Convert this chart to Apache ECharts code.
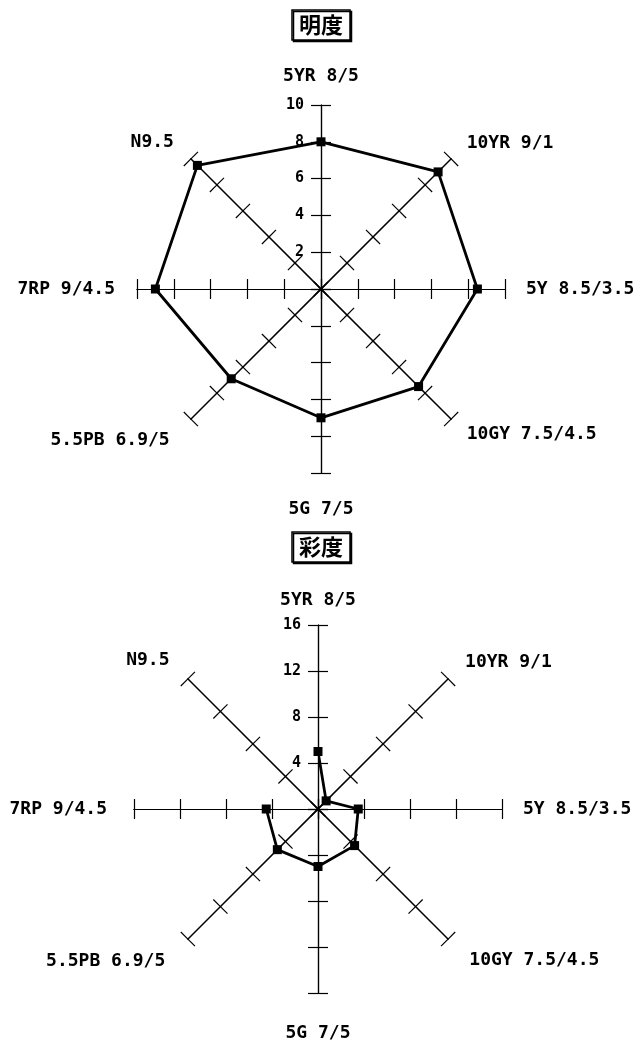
<!DOCTYPE html>
<html>
<head>
<meta charset="utf-8">
<script src="https://cdn.jsdelivr.net/npm/echarts@6/dist/echarts.min.js"></script>
<style>
    html, body { margin: 0; padding: 0; background: #fff; }
    #main { width: 642px; height: 1041px; }
</style>
</head>
<body>
<div id="main"></div>
<script>
    // axes, clockwise from the top
    var names = ['5YR 8/5', '10YR 9/1', '5Y 8.5/3.5', '10GY 7.5/4.5', '5G 7/5', '5.5PB 6.9/5', '7RP 9/4.5', 'N9.5'];
    // 明度 (value)
    var valueData = [8, 9, 8.5, 7.5, 7, 6.9, 9, 9.5];
    var valueMax = 10, valueSplit = 5;
    // 彩度 (chroma) - N9.5 has no point
    var chromaData = [5, 1, 3.5, 4.5, 5, 5, 4.5, '-'];
    var chromaMax = 16, chromaSplit = 4;

    // layout
    var R = 184;
    var topCenter = [321, 289], bottomCenter = [318, 809];
    var topGaps = [20, 22, 21, 22, 27, 30, 22, 24];
    var bottomGaps = [16, 24, 21, 30, 31, 32, 27, 26];
    // radar places indicators counter-clockwise
    var ccw = [0, 7, 6, 5, 4, 3, 2, 1];

    var latin = 'DejaVu Sans Mono';
    var axisColor = '#000';

    // second copy of each radar draws the ticks on the other side -> crosses
    function makeRadar(center, max, split, gaps, withNames, tickLen) {
        return {
            center: center,
            radius: R,
            startAngle: 90,
            splitNumber: split,
            shape: 'polygon',
            nameGap: 20,
            indicator: ccw.map(function (i) {
                var ind = {name: withNames ? names[i] : '', min: 0, max: max, nameGap: gaps[i]};
                if (withNames && i === 0) {
                    ind.axisLabel = {
                        show: true,
                        margin: 17,
                        color: '#000',
                        fontFamily: latin,
                        fontWeight: 'bold',
                        fontSize: 15,
                        formatter: function (v) { return v === 0 ? '' : v; }
                    };
                }
                return ind;
            }),
            axisName: {
                show: withNames,
                color: '#000',
                fontFamily: latin,
                fontWeight: 'bold',
                fontSize: 18
            },
            axisLine: {show: true, lineStyle: {color: axisColor, width: 1.2}},
            axisTick: {show: true, length: tickLen, lineStyle: {color: axisColor, width: 1.2}},
            axisLabel: {show: false},
            splitLine: {show: false},
            splitArea: {show: false}
        };
    }

    var titleBox = {
        left: 'center',
        padding: [4, 7],
        borderColor: '#000',
        borderWidth: 1.5,
        backgroundColor: '#fff',
        shadowColor: '#000',
        shadowOffsetX: 1.5,
        shadowOffsetY: 1.5,
        textStyle: {
            color: '#000',
            fontFamily: 'Noto Sans CJK JP',
            fontWeight: 'bold',
            fontSize: 22
        }
    };

    var chart = echarts.init(document.getElementById('main'));

    var option = {
        backgroundColor: '#fff',
        animation: false,
        title: [
            echarts.util.merge({text: '明度', top: 10}, titleBox),
            echarts.util.merge({text: '彩度', top: 532}, titleBox)
        ],
        radar: [
            makeRadar(topCenter, valueMax, valueSplit, topGaps, true, 10),
            makeRadar(topCenter, valueMax, valueSplit, topGaps, false, -10),
            makeRadar(bottomCenter, chromaMax, chromaSplit, bottomGaps, true, 10),
            makeRadar(bottomCenter, chromaMax, chromaSplit, bottomGaps, false, -10)
        ],
        polar: [{center: bottomCenter, radius: R}],
        angleAxis: [{
            polarIndex: 0,
            type: 'category',
            data: names,
            startAngle: 90,
            clockwise: true,
            boundaryGap: false,
            show: false
        }],
        radiusAxis: [{
            polarIndex: 0,
            min: 0,
            max: chromaMax,
            show: false
        }],
        series: [
            {
                type: 'radar',
                radarIndex: 0,
                symbol: 'rect',
                symbolSize: 9,
                lineStyle: {color: '#000', width: 2.8},
                itemStyle: {color: '#000'},
                data: [{value: ccw.map(function (i) { return valueData[i]; })}]
            },
            {
                type: 'line',
                coordinateSystem: 'polar',
                polarIndex: 0,
                symbol: 'rect',
                symbolSize: 9,
                showSymbol: true,
                connectNulls: false,
                lineStyle: {color: '#000', width: 2.8},
                itemStyle: {color: '#000'},
                data: chromaData
            }
        ]
    };

    chart.setOption(option);
</script>
</body>
</html>
